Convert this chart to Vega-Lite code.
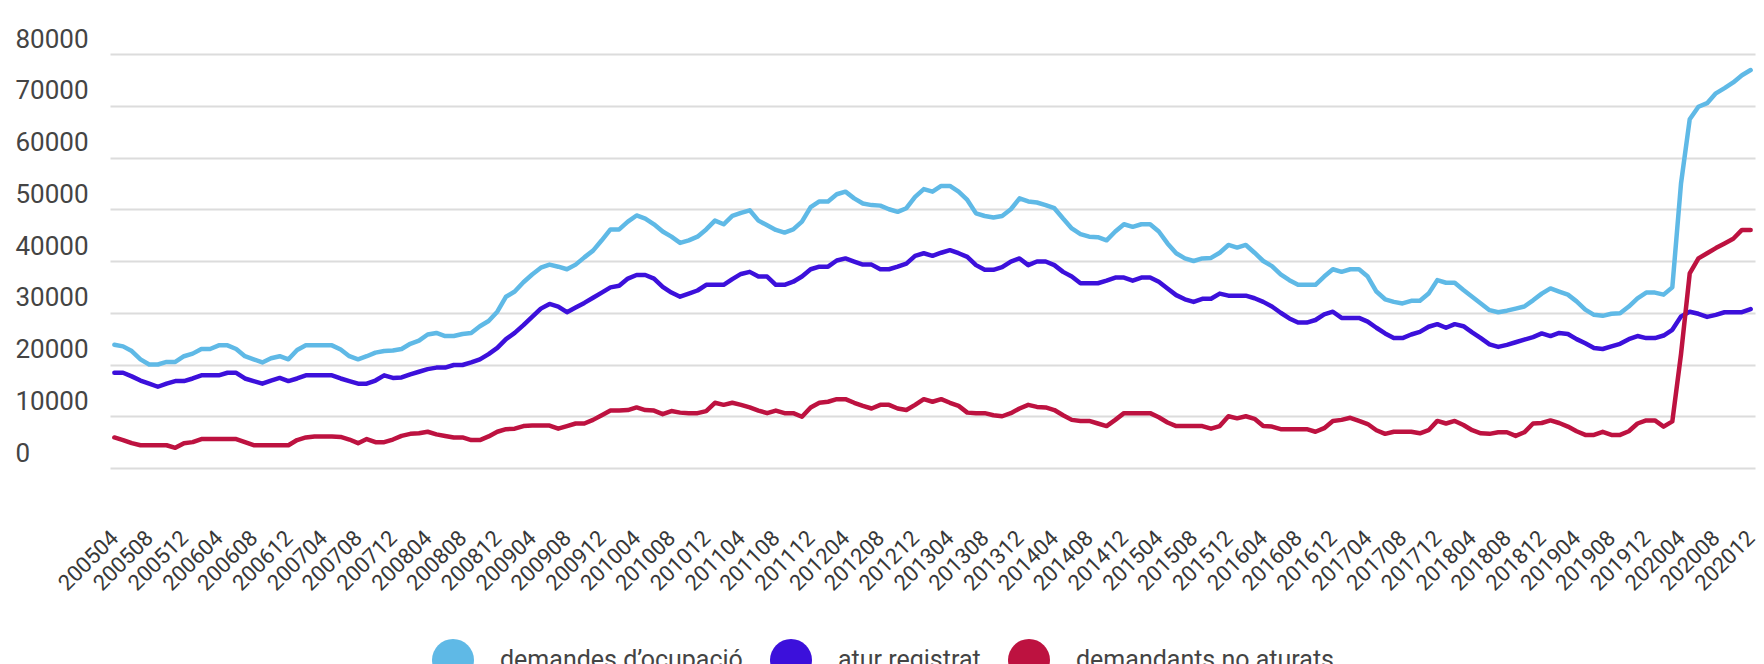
{
 "$schema": "https://vega.github.io/schema/vega-lite/v6.json",
 "width": 1745, "height": 414,
 "autosize": {"type": "none"},
 "padding": {"left": 15, "top": 54, "right": 4, "bottom": 196},
 "background": "white",
 "config": {"view": {"stroke": null}, "font": "Roboto"},
 "data": {"values": [
{"m":"200504","d":23800,"a":18400,"n":5900},{"m":"200505","d":23500,"a":18400,"n":5400},{"m":"200506","d":22600,"a":17700,"n":4800},{"m":"200507","d":21000,"a":16900,"n":4400},{"m":"200508","d":20000,"a":16300,"n":4400},{"m":"200509","d":20000,"a":15700,"n":4400},{"m":"200510","d":20500,"a":16300,"n":4400},{"m":"200511","d":20500,"a":16800,"n":3900},{"m":"200512","d":21600,"a":16800,"n":4800},
{"m":"200601","d":22100,"a":17300,"n":5000},{"m":"200602","d":23000,"a":17900,"n":5600},{"m":"200603","d":23000,"a":17900,"n":5600},{"m":"200604","d":23700,"a":17900,"n":5600},{"m":"200605","d":23700,"a":18400,"n":5600},{"m":"200606","d":23000,"a":18400,"n":5600},{"m":"200607","d":21600,"a":17300,"n":5000},{"m":"200608","d":21000,"a":16800,"n":4400},{"m":"200609","d":20400,"a":16300,"n":4400},{"m":"200610","d":21200,"a":16900,"n":4400},{"m":"200611","d":21600,"a":17400,"n":4400},{"m":"200612","d":21000,"a":16800,"n":4400},
{"m":"200701","d":22800,"a":17300,"n":5400},{"m":"200702","d":23700,"a":17900,"n":5900},{"m":"200703","d":23700,"a":17900,"n":6100},{"m":"200704","d":23700,"a":17900,"n":6100},{"m":"200705","d":23700,"a":17900,"n":6100},{"m":"200706","d":22900,"a":17300,"n":6000},{"m":"200707","d":21600,"a":16800,"n":5500},{"m":"200708","d":21000,"a":16300,"n":4800},{"m":"200709","d":21600,"a":16300,"n":5600},{"m":"200710","d":22300,"a":16900,"n":5000},{"m":"200711","d":22600,"a":17900,"n":5000},{"m":"200712","d":22700,"a":17400,"n":5500},
{"m":"200801","d":23000,"a":17500,"n":6200},{"m":"200802","d":24000,"a":18100,"n":6600},{"m":"200803","d":24600,"a":18600,"n":6700},{"m":"200804","d":25800,"a":19100,"n":7000},{"m":"200805","d":26100,"a":19400,"n":6500},{"m":"200806","d":25500,"a":19400,"n":6200},{"m":"200807","d":25500,"a":19900,"n":5900},{"m":"200808","d":25900,"a":19900,"n":5900},{"m":"200809","d":26100,"a":20400,"n":5400},{"m":"200810","d":27400,"a":21000,"n":5400},{"m":"200811","d":28400,"a":22000,"n":6100},{"m":"200812","d":30200,"a":23200,"n":7000},
{"m":"200901","d":33100,"a":24900,"n":7500},{"m":"200902","d":34100,"a":26100,"n":7600},{"m":"200903","d":35900,"a":27600,"n":8100},{"m":"200904","d":37400,"a":29200,"n":8200},{"m":"200905","d":38700,"a":30800,"n":8200},{"m":"200906","d":39300,"a":31700,"n":8200},{"m":"200907","d":38900,"a":31200,"n":7600},{"m":"200908","d":38400,"a":30100,"n":8100},{"m":"200909","d":39300,"a":31000,"n":8600},{"m":"200910","d":40700,"a":31900,"n":8600},{"m":"200911","d":42000,"a":32900,"n":9300},{"m":"200912","d":44000,"a":33900,"n":10200},
{"m":"201001","d":46100,"a":34900,"n":11100},{"m":"201002","d":46100,"a":35200,"n":11100},{"m":"201003","d":47600,"a":36600,"n":11200},{"m":"201004","d":48800,"a":37300,"n":11700},{"m":"201005","d":48200,"a":37300,"n":11200},{"m":"201006","d":47100,"a":36600,"n":11100},{"m":"201007","d":45700,"a":35000,"n":10400},{"m":"201008","d":44700,"a":33900,"n":11000},{"m":"201009","d":43500,"a":33100,"n":10700},{"m":"201010","d":44000,"a":33700,"n":10600},{"m":"201011","d":44700,"a":34300,"n":10600},{"m":"201012","d":46100,"a":35400,"n":11000},
{"m":"201101","d":47800,"a":35400,"n":12600},{"m":"201102","d":47100,"a":35400,"n":12200},{"m":"201103","d":48700,"a":36500,"n":12600},{"m":"201104","d":49300,"a":37500,"n":12200},{"m":"201105","d":49800,"a":37900,"n":11700},{"m":"201106","d":47800,"a":37000,"n":11100},{"m":"201107","d":46900,"a":37000,"n":10600},{"m":"201108","d":46000,"a":35400,"n":11100},{"m":"201109","d":45500,"a":35400,"n":10600},{"m":"201110","d":46100,"a":36000,"n":10600},{"m":"201111","d":47600,"a":37000,"n":9900},{"m":"201112","d":50400,"a":38400,"n":11700},
{"m":"201201","d":51500,"a":38900,"n":12600},{"m":"201202","d":51500,"a":38900,"n":12800},{"m":"201203","d":52900,"a":40100,"n":13300},{"m":"201204","d":53400,"a":40500,"n":13300},{"m":"201205","d":52100,"a":39900,"n":12600},{"m":"201206","d":51100,"a":39300,"n":12000},{"m":"201207","d":50800,"a":39300,"n":11500},{"m":"201208","d":50700,"a":38400,"n":12200},{"m":"201209","d":50000,"a":38400,"n":12200},{"m":"201210","d":49500,"a":38900,"n":11500},{"m":"201211","d":50200,"a":39500,"n":11200},{"m":"201212","d":52400,"a":41000,"n":12200},
{"m":"201301","d":53900,"a":41500,"n":13300},{"m":"201302","d":53400,"a":41000,"n":12800},{"m":"201303","d":54500,"a":41600,"n":13300},{"m":"201304","d":54500,"a":42100,"n":12600},{"m":"201305","d":53400,"a":41500,"n":12000},{"m":"201306","d":51800,"a":40800,"n":10700},{"m":"201307","d":49200,"a":39200,"n":10600},{"m":"201308","d":48700,"a":38300,"n":10600},{"m":"201309","d":48400,"a":38300,"n":10200},{"m":"201310","d":48700,"a":38800,"n":10000},{"m":"201311","d":50000,"a":39900,"n":10600},{"m":"201312","d":52100,"a":40500,"n":11500},
{"m":"201401","d":51500,"a":39200,"n":12200},{"m":"201402","d":51300,"a":39900,"n":11800},{"m":"201403","d":50800,"a":39900,"n":11700},{"m":"201404","d":50200,"a":39200,"n":11200},{"m":"201405","d":48200,"a":37900,"n":10200},{"m":"201406","d":46300,"a":37000,"n":9300},{"m":"201407","d":45200,"a":35700,"n":9100},{"m":"201408","d":44700,"a":35700,"n":9100},{"m":"201409","d":44600,"a":35700,"n":8600},{"m":"201410","d":44000,"a":36200,"n":8100},{"m":"201411","d":45700,"a":36800,"n":9300},{"m":"201412","d":47100,"a":36800,"n":10600},
{"m":"201501","d":46600,"a":36200,"n":10600},{"m":"201502","d":47100,"a":36800,"n":10600},{"m":"201503","d":47100,"a":36800,"n":10600},{"m":"201504","d":45700,"a":36000,"n":9800},{"m":"201505","d":43400,"a":34700,"n":8800},{"m":"201506","d":41500,"a":33400,"n":8100},{"m":"201507","d":40500,"a":32600,"n":8100},{"m":"201508","d":40000,"a":32100,"n":8100},{"m":"201509","d":40500,"a":32700,"n":8100},{"m":"201510","d":40600,"a":32700,"n":7600},{"m":"201511","d":41600,"a":33700,"n":8100},{"m":"201512","d":43100,"a":33300,"n":10000},
{"m":"201601","d":42600,"a":33300,"n":9600},{"m":"201602","d":43100,"a":33300,"n":10000},{"m":"201603","d":41600,"a":32800,"n":9500},{"m":"201604","d":40000,"a":32100,"n":8100},{"m":"201605","d":39000,"a":31200,"n":8000},{"m":"201606","d":37400,"a":30000,"n":7500},{"m":"201607","d":36300,"a":28900,"n":7500},{"m":"201608","d":35400,"a":28100,"n":7500},{"m":"201609","d":35400,"a":28100,"n":7500},{"m":"201610","d":35400,"a":28600,"n":7000},{"m":"201611","d":37000,"a":29700,"n":7700},{"m":"201612","d":38400,"a":30200,"n":9100},
{"m":"201701","d":37900,"a":29000,"n":9300},{"m":"201702","d":38400,"a":29000,"n":9700},{"m":"201703","d":38400,"a":29000,"n":9100},{"m":"201704","d":37000,"a":28300,"n":8500},{"m":"201705","d":34100,"a":27100,"n":7300},{"m":"201706","d":32600,"a":26000,"n":6600},{"m":"201707","d":32100,"a":25100,"n":7000},{"m":"201708","d":31800,"a":25100,"n":7000},{"m":"201709","d":32300,"a":25800,"n":7000},{"m":"201710","d":32300,"a":26300,"n":6700},{"m":"201711","d":33700,"a":27300,"n":7300},{"m":"201712","d":36300,"a":27800,"n":9100},
{"m":"201801","d":35800,"a":27100,"n":8600},{"m":"201802","d":35800,"a":27800,"n":9100},{"m":"201803","d":34400,"a":27400,"n":8300},{"m":"201804","d":33100,"a":26200,"n":7300},{"m":"201805","d":31800,"a":25100,"n":6700},{"m":"201806","d":30500,"a":23900,"n":6600},{"m":"201807","d":30100,"a":23400,"n":6900},{"m":"201808","d":30400,"a":23800,"n":6900},{"m":"201809","d":30800,"a":24300,"n":6200},{"m":"201810","d":31200,"a":24800,"n":6900},{"m":"201811","d":32400,"a":25300,"n":8600},{"m":"201812","d":33700,"a":26000,"n":8700},
{"m":"201901","d":34700,"a":25500,"n":9200},{"m":"201902","d":34100,"a":26100,"n":8700},{"m":"201903","d":33500,"a":25900,"n":8000},{"m":"201904","d":32200,"a":24900,"n":7100},{"m":"201905","d":30600,"a":24100,"n":6400},{"m":"201906","d":29600,"a":23200,"n":6400},{"m":"201907","d":29400,"a":23000,"n":7000},{"m":"201908","d":29800,"a":23500,"n":6400},{"m":"201909","d":29900,"a":24000,"n":6400},{"m":"201910","d":31200,"a":24900,"n":7100},{"m":"201911","d":32800,"a":25500,"n":8600},{"m":"201912","d":33900,"a":25100,"n":9200},
{"m":"202001","d":33900,"a":25100,"n":9200},{"m":"202002","d":33500,"a":25600,"n":8000},{"m":"202003","d":34900,"a":26700,"n":9000},{"m":"202004","d":55000,"a":29300,"n":22000},{"m":"202005","d":67400,"a":30200,"n":37600},{"m":"202006","d":69800,"a":29800,"n":40500},{"m":"202007","d":70500,"a":29200,"n":41500},{"m":"202008","d":72400,"a":29600,"n":42500},{"m":"202009","d":73400,"a":30100,"n":43400},{"m":"202010","d":74500,"a":30100,"n":44300},{"m":"202011","d":75900,"a":30100,"n":46000},{"m":"202012","d":76900,"a":30700,"n":46000}
 ]},
 "transform": [{"fold": ["d", "a", "n"], "as": ["serie", "valor"]}],
 "mark": {"type": "line", "strokeWidth": 4.5, "strokeJoin": "round", "strokeCap": "round"},
 "encoding": {
  "x": {"field": "m", "type": "ordinal", "sort": null,
   "scale": {"type": "point", "range": [95, 1740]},
   "axis": {"values": ["200504","200508","200512","200604","200608","200612","200704","200708","200712","200804","200808","200812","200904","200908","200912","201004","201008","201012","201104","201108","201112","201204","201208","201212","201304","201308","201312","201404","201408","201412","201504","201508","201512","201604","201608","201612","201704","201708","201712","201804","201808","201812","201904","201908","201912","202004","202008","202012"],
    "title": null, "labelAngle": -45, "labelAlign": "right", "labelBaseline": "middle", "labelFontSize": 22, "labelColor": "#383838", "labelPadding": 66, "labelOverlap": false, "ticks": false, "tickSize": 0, "domain": false, "grid": false}},
  "y": {"field": "valor", "type": "quantitative",
   "scale": {"domain": [0, 80000], "nice": false},
   "axis": {"values": [0,10000,20000,30000,40000,50000,60000,70000,80000], "format": "d", "title": null, "domain": false, "ticks": false, "tickSize": 0,
    "labelAlign": "left", "labelBaseline": "alphabetic", "labelPadding": 0, "labelOffset": -7, "labelFontSize": 26, "labelColor": "#444444",
    "grid": true, "gridColor": "#dcdcdc", "gridWidth": 2}},
  "color": {"field": "serie", "type": "nominal",
   "scale": {"domain": ["d", "a", "n"], "range": ["#5fb9e6", "#3c10db", "#bd1240"]},
   "legend": {"orient": "none", "legendX": 417, "legendY": 585, "direction": "horizontal", "title": null, "padding": 0,
    "symbolType": "circle", "symbolSize": 1764, "symbolStrokeWidth": 0, "labelFontSize": 25, "labelColor": "#444444", "labelOffset": 26, "columnPadding": 27, "labelLimit": 400,
    "labelExpr": "datum.label == 'd' ? 'demandes d’ocupació' : datum.label == 'a' ? 'atur registrat' : 'demandants no aturats'",
    "encode": {"symbols": {"update": {"fill": {"scale": "color", "field": "value"}, "stroke": {"value": "transparent"}, "fillOpacity": {"value": 1}}}}}}
 }
}
